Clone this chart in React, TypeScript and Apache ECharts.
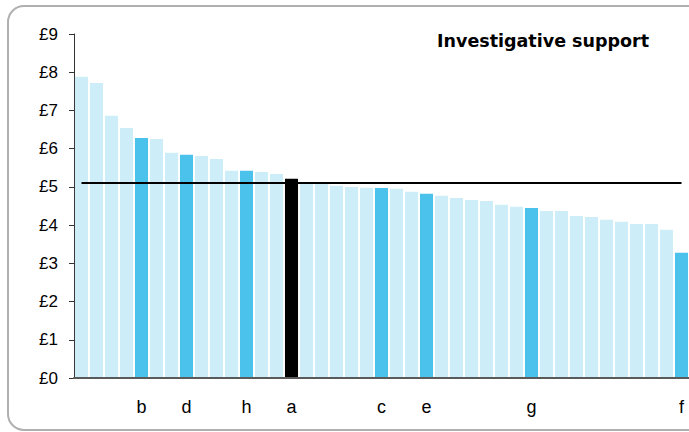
import React, { useEffect, useRef } from "react";
import * as echarts from "echarts";

const categories: string[] = [
  "", "", "", "", "b", "", "", "d", "", "", "", "h", "", "", "a",
  "", "", "", "", "", "c", "", "", "e", "", "", "", "", "", "", "g",
  "", "", "", "", "", "", "", "", "", "f",
];

const values: number[] = [
  7.88, 7.72, 6.86, 6.54, 6.28, 6.25, 5.89, 5.84, 5.81, 5.73, 5.42, 5.42, 5.39, 5.34, 5.21,
  5.1, 5.09, 5.03, 5.0, 4.98, 4.97, 4.95, 4.87, 4.82, 4.77, 4.71, 4.66, 4.63, 4.53, 4.48, 4.45,
  4.37, 4.37, 4.24, 4.21, 4.14, 4.09, 4.03, 4.03, 3.88, 3.28,
];

// kind of each bar: 0 = other, 1 = highlighted, 2 = this force
const kinds: number[] = categories.map((c) => (c === "a" ? 2 : c !== "" ? 1 : 0));

const average = 5.1;
const yTicks: number[] = [0, 1, 2, 3, 4, 5, 6, 7, 8, 9];
const title = "Investigative support";

const COLORS = ["#cdedf8", "#4ac2ec", "#000000"];
const FONT = "Arial";

export default function App() {
  const ref = useRef<HTMLDivElement>(null);
  useEffect(() => {
    if (!ref.current) return;
    const chart = echarts.init(ref.current, null, { renderer: "svg" });
    chart.setOption({
      animation: false,
      textStyle: { fontFamily: FONT },
      grid: { left: 74, right: 0, top: 34, bottom: 54, containLabel: false },
      graphic: [
        {
          type: "rect",
          shape: { x: 8, y: 6, width: 700, height: 424, r: 16 },
          style: { fill: "none", stroke: "#b0b0b0", lineWidth: 2 },
          z: -10,
        },
        {
          type: "text",
          left: 437,
          top: 32,
          style: {
            text: title,
            fontFamily: "DejaVu Sans",
            fontWeight: "bold",
            fontSize: 17.5,
            fill: "#000",
          },
        },
      ],
      xAxis: {
        type: "category",
        data: categories,
        z: 5,
        axisLine: { lineStyle: { color: "#5a5a5a", width: 2 } },
        axisTick: { show: false },
        axisLabel: {
          interval: 0,
          color: "#000",
          fontFamily: FONT,
          fontSize: 18,
          margin: 20,
        },
      },
      yAxis: {
        type: "value",
        min: yTicks[0],
        max: yTicks[yTicks.length - 1],
        interval: 1,
        splitLine: { show: false },
        axisLine: { show: true, lineStyle: { color: "#333", width: 1 } },
        axisTick: { show: true, length: 5, lineStyle: { color: "#333" } },
        axisLabel: {
          color: "#000",
          fontFamily: FONT,
          fontSize: 17,
          margin: 16,
          formatter: (v: number) => "£" + v,
        },
      },
      series: [
        {
          type: "bar",
          data: values.map((v, i) => ({
            value: v,
            itemStyle: { color: COLORS[kinds[i]] },
          })),
          barCategoryGap: "13%",
          z: 2,
        },
        {
          type: "line",
          data: values.map(() => average),
          symbol: "none",
          lineStyle: { color: "#000", width: 2 },
          z: 3,
        },
      ],
    });
    return () => chart.dispose();
  }, []);
  return (
    <div
      ref={ref}
      style={{ position: "fixed", left: 0, top: 0, width: 689, height: 432, background: "#fff" }}
    />
  );
}
